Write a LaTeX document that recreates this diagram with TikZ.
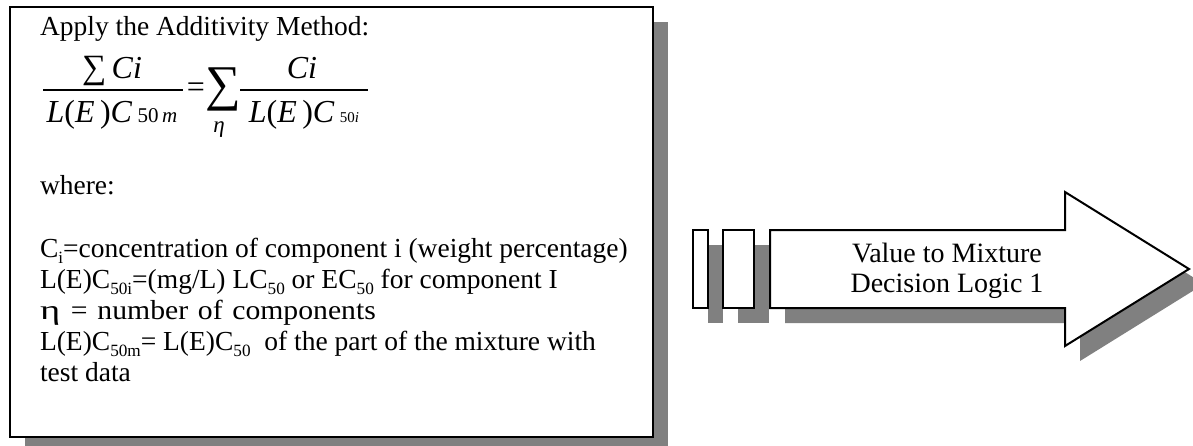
\documentclass[tikz,border=0pt]{standalone}
\usepackage{fontspec}
\setmainfont{Liberation Serif}
\definecolor{shadowgray}{HTML}{808080}
\newcommand{\sbs}[1]{\raisebox{-0.22em}{\fontsize{8.6}{9}\selectfont #1}}
\begin{document}
\begin{tikzpicture}[x=0.5pt,y=-0.5pt,
  shadowfill/.style={fill=shadowgray,draw=none},
  framebox/.style={draw=black,fill=white,line width=1pt,line join=miter},
  txt/.style={inner sep=0pt,outer sep=0pt,anchor=base west,font=\fontsize{13.75}{15.5}\selectfont},
  eqtxt/.style={inner sep=0pt,outer sep=0pt,anchor=base,font=\fontsize{16}{17}\selectfont},
  fracbar/.style={line width=0.6pt},
  arrowtxt/.style={inner sep=0pt,outer sep=0pt,anchor=base,font=\fontsize{14}{15.5}\selectfont}]
\clip (0,0) rectangle (1193,445);
\fill[white] (0,0) rectangle (1193,445);
% left panel
\fill[shadowgray] (25,22) rectangle (668,452);
\draw[framebox] (10,7) rectangle (653,437);
\node[txt] (title) at (40,35) {Apply the Additivity Method:};
% formula
\node[eqtxt] (num1) at (112,78) {{\fontsize{17}{17}\selectfont ∑}\,\textit{Ci}};
\coordinate (b1l) at (43,90);
\coordinate (b1r) at (183,90);
\draw[fracbar] (b1l) -- (b1r);
\node[eqtxt] (den1) at (112,122) {\textit{L}(\textit{E}\,)\textit{C}\,{\fontsize{10.5}{11}\selectfont 50\,\textit{m}}};
\node[eqtxt] (eq) at (196,97) {=};
\node[eqtxt,font=\fontsize{25}{25}\selectfont,text depth=0pt] (bigsum) at (223,100) {∑};
\node[eqtxt,font=\fontsize{11.5}{12}\selectfont\itshape,text height=1.1ex] (eta) at (219,132) {η};
\node[eqtxt] (num2) at (302,78) {\textit{Ci}};
\coordinate (b2l) at (240,90);
\coordinate (b2r) at (368,90);
\draw[fracbar] (b2l) -- (b2r);
\node[eqtxt] (den2) at (304,122) {\textit{L}(\textit{E}\,)\textit{C}\,{\fontsize{7.5}{8}\selectfont 50\textit{i}}};
% definitions
\node[txt] (where) at (40,194) {where:};
\node[txt] (l1) at (40,257) {C\sbs{i}=concentration of component i (weight percentage)};
\node[txt] (l2) at (40,288) {L(E)C\sbs{50i}=(mg/L) LC\sbs{50} or EC\sbs{50} for component I};
\node[txt] (l3) at (40,319) {\scalebox{1.08}[1]{\scalebox{1.3}[1]{η}\hspace{5pt}=\hspace{4.5pt}number\hspace{4.5pt}of\hspace{4.5pt}components}};
\node[txt] (l4) at (40,350) {L(E)C\sbs{50m}= L(E)C\sbs{50}\ \ of the part of the mixture with};
\node[txt] (l5) at (40,381) {test data};
% arrow shadows
\begin{scope}[shift={(15,15)}]
\fill[shadowgray] (693,230) rectangle (708,308);
\fill[shadowgray] (723,230) rectangle (754,308);
\fill[shadowgray] (770,230) -- (1065,230) -- (1065,192) -- (1189,269) -- (1065,346) -- (1065,308) -- (770,308) -- cycle;
\end{scope}
% arrow
\draw[framebox] (693,230) rectangle (708,308);
\draw[framebox] (723,230) rectangle (754,308);
\draw[framebox] (770,230) -- (1065,230) -- (1065,192) -- (1189,269) -- (1065,346) -- (1065,308) -- (770,308) -- cycle;
\node[arrowtxt] (v1) at (947,262) {Value to Mixture};
\node[arrowtxt] (v2) at (947,292) {Decision Logic 1};
\end{tikzpicture}
\end{document}
